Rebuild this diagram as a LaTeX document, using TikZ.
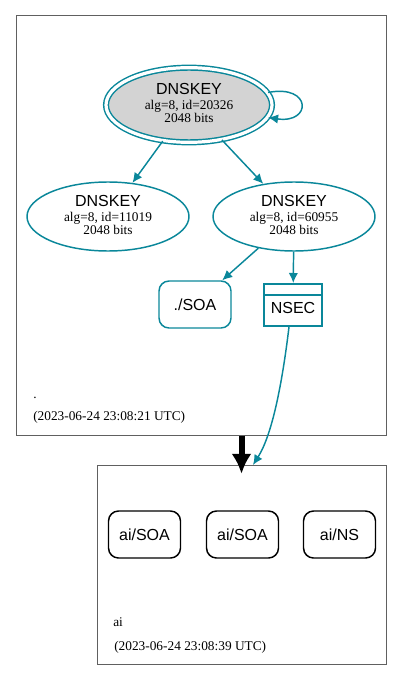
\documentclass[tikz,border=0pt]{standalone}
\usepackage{fontspec}
\setmainfont{Liberation Serif}
\setsansfont{Liberation Sans}
\usepackage{tikz}
\usetikzlibrary{arrows.meta, positioning, shapes.geometric}
\definecolor{dvKey}{HTML}{0A879A}
\definecolor{dvFill}{HTML}{D3D3D3}
\definecolor{dvFrame}{HTML}{606060}
\newcommand{\dvsmall}{\fontsize{10pt}{10pt}\selectfont}
\newcommand{\dvbig}{\fontsize{12pt}{10pt}\selectfont\sffamily}
\newcommand{\keylabel}[2]{{\dvbig DNSKEY}\\[1pt]alg=8, id=#1\\#2 bits\rule[-2.5pt]{0pt}{0pt}}
\tikzset{
  dv-zone/.style={
    rectangle, draw=dvFrame, line width=0.75pt, inner sep=0pt
  },
  dv-key/.style={
    ellipse, draw=dvKey, line width=1.1pt, inner sep=0pt,
    minimum width=121.5pt, minimum height=51.75pt,
    align=center, font=\dvsmall
  },
  dv-ksk/.style={
    dv-key, fill=dvFill, double=white, double distance=2.4pt,
    line width=1.1pt, minimum width=124.5pt, minimum height=56pt
  },
  dv-rr/.style={
    rectangle, rounded corners=7.5pt, draw=dvKey, line width=1.1pt,
    minimum width=54pt, minimum height=35.25pt, font=\dvbig
  },
  dv-rr-ai/.style={dv-rr, draw=black},
  dv-nsec/.style={
    rectangle, draw=dvKey, line width=1.5pt,
    minimum width=43.5pt, minimum height=31.5pt
  },
  dv-text/.style={inner sep=0pt, font=\dvsmall, anchor=base west},
  dv-edge/.style={-{Latex[length=7.5pt,width=7pt]}, draw=dvKey, line width=1.1pt},
  dv-deleg/.style={-{Latex[length=15pt,width=15pt]}, draw=black, line width=4.5pt},
}
\begin{document}
\begin{tikzpicture}[x=0.75pt, y=-0.75pt]
  \useasboundingbox (0,0) rectangle (403,681);

  % zones
  \node[dv-zone, minimum width=277.5pt, minimum height=314.25pt] (zoneroot) at (201,225.5) {};
  \node[dv-zone, minimum width=216.75pt, minimum height=149.25pt] (zoneai) at (241.5,564.5) {};

  % root zone
  \node[dv-ksk] (ksk) at (189,105) {\keylabel{20326}{2048}};
  \node[dv-key] (zska) at (108,216.5) {\keylabel{11019}{2048}};
  \node[dv-key] (zskb) at (294,216.5) {\keylabel{60955}{2048}};
  \node[dv-rr] (soa) at (195,304.5) {./SOA};
  \node[dv-nsec] (nsec) at (293,305) {};
  \node[font=\dvbig, inner sep=0pt] (nsectxt) at ([yshift=-2.25pt]nsec.center) {NSEC};
  \draw[dvKey, line width=1.5pt] ([yshift=-9pt]nsec.north west) -- ([yshift=-9pt]nsec.north east);
  \node[dv-text] (rootname) at (33,398) {.};
  \node[dv-text] (roottime) at (33,420) {(2023-06-24 23:08:21 UTC)};

  % ai zone
  \node[dv-rr-ai] (aisoa) at (144.5,534.5) {ai/SOA};
  \node[dv-rr-ai] (aisoab) at (242.5,534.5) {ai/SOA};
  \node[dv-rr-ai] (ains) at (339.5,534.5) {ai/NS};
  \node[dv-text] (ainame) at (113,626) {ai};
  \node[dv-text] (aitime) at (114,650) {(2023-06-24 23:08:39 UTC)};

  \coordinate (nsecend) at (253,465);

  \draw[dv-edge] (ksk.9) .. controls (312,84) and (312,124) .. (ksk.-9);
  \draw[dv-edge] (ksk) -- (zska);
  \draw[dv-edge] (ksk) -- (zskb);
  \draw[dv-edge] (zskb) -- (soa);
  \draw[dv-edge] (zskb) -- (nsec);
  \draw[dv-edge] ([xshift=-3pt]nsec.south) .. controls (282,385) and (272,435) .. (nsecend);
  \draw[dv-deleg] (zoneroot.south -| zoneai.north) -- ([yshift=-7pt]zoneai.north);

\end{tikzpicture}
\end{document}
